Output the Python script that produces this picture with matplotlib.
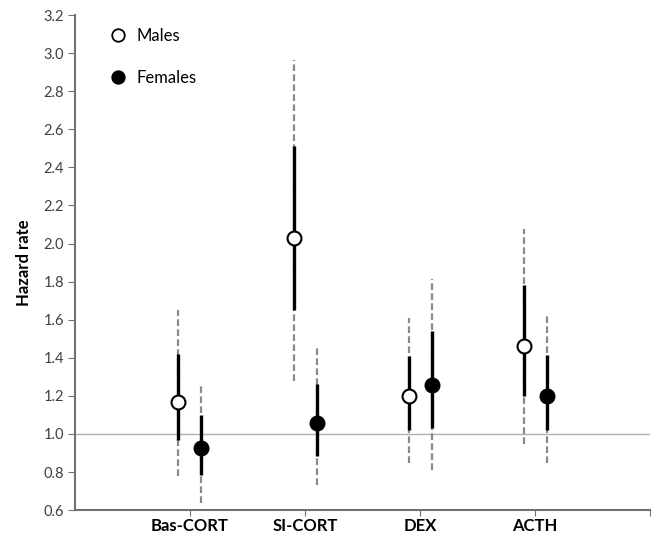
import matplotlib
matplotlib.use("Agg")
import matplotlib.pyplot as plt
from matplotlib.lines import Line2D

plt.rcParams['font.family'] = ['Lato', 'DejaVu Sans']

categories = ['Bas-CORT', 'SI-CORT', 'DEX', 'ACTH']

male_hr = [1.17, 2.03, 1.20, 1.46]
male_inner_lo = [0.97, 1.65, 1.02, 1.20]
male_inner_hi = [1.42, 2.51, 1.41, 1.78]
male_outer_lo = [0.78, 1.28, 0.85, 0.95]
male_outer_hi = [1.65, 2.965, 1.61, 2.075]

female_hr = [0.925, 1.06, 1.255, 1.20]
female_inner_lo = [0.785, 0.885, 1.03, 1.02]
female_inner_hi = [1.10, 1.26, 1.54, 1.415]
female_outer_lo = [0.64, 0.73, 0.81, 0.845]
female_outer_hi = [1.265, 1.45, 1.815, 1.62]

yticks = [0.6, 0.8, 1.0, 1.2, 1.4, 1.6, 1.8, 2.0, 2.2, 2.4, 2.6, 2.8, 3.0, 3.2]

fig = plt.figure(figsize=(6.52, 5.37), dpi=100)
ax = fig.add_axes([0.115, 0.05, 0.882, 0.922])

base = list(range(1, len(categories) + 1))
off = 0.1
xm = [b - off for b in base]
xf = [b + off for b in base]

ax.axhline(1.0, color='#b0b0b0', lw=1.0, zorder=1)

for xs, olo, ohi, ilo, ihi, hr, fc in [
    (xm, male_outer_lo, male_outer_hi, male_inner_lo, male_inner_hi, male_hr, 'white'),
    (xf, female_outer_lo, female_outer_hi, female_inner_lo, female_inner_hi, female_hr, 'black'),
]:
    ax.vlines(xs, olo, ohi, colors='#8a8a8a', linestyles=(0, (3.0, 1.5)), lw=1.6, zorder=2)
    ax.vlines(xs, ilo, ihi, colors='black', lw=2.4, zorder=3)
    ax.plot(xs, hr, 'o', ms=10, mfc=fc, mec='black', mew=1.5, zorder=4, ls='none')

ax.set_xlim(0, 5)
ax.set_ylim(0.6, 3.2)
ax.set_yticks(yticks)
ax.set_yticklabels([f'{v:.1f}' for v in yticks], fontsize=10.5, color='#404040')
ax.set_xticks(base + [5])
ax.set_xticklabels(categories + [''], fontsize=12, fontweight='bold')
ax.tick_params(axis='x', direction='out', length=4, color='#707070', pad=1.5)
ax.tick_params(axis='y', direction='out', length=5, color='#707070', pad=3)
for s in ['top', 'right']:
    ax.spines[s].set_visible(False)
for s in ['left', 'bottom']:
    ax.spines[s].set_color('#707070')
    ax.spines[s].set_linewidth(1.5)

ax.set_ylabel('Hazard rate', fontsize=12, fontweight='bold', labelpad=8)

handles = [
    Line2D([], [], marker='o', ls='none', ms=9, mfc='white', mec='black', mew=1.3, label='Males'),
    Line2D([], [], marker='o', ls='none', ms=9, mfc='black', mec='black', mew=1.3, label='Females'),
]
ax.legend(handles=handles, loc='upper left', bbox_to_anchor=(0.035, 1.005), frameon=False,
          labelspacing=1.6, handletextpad=0.6, fontsize=12, handlelength=1.0)

fig.savefig('out.png', dpi=100)
